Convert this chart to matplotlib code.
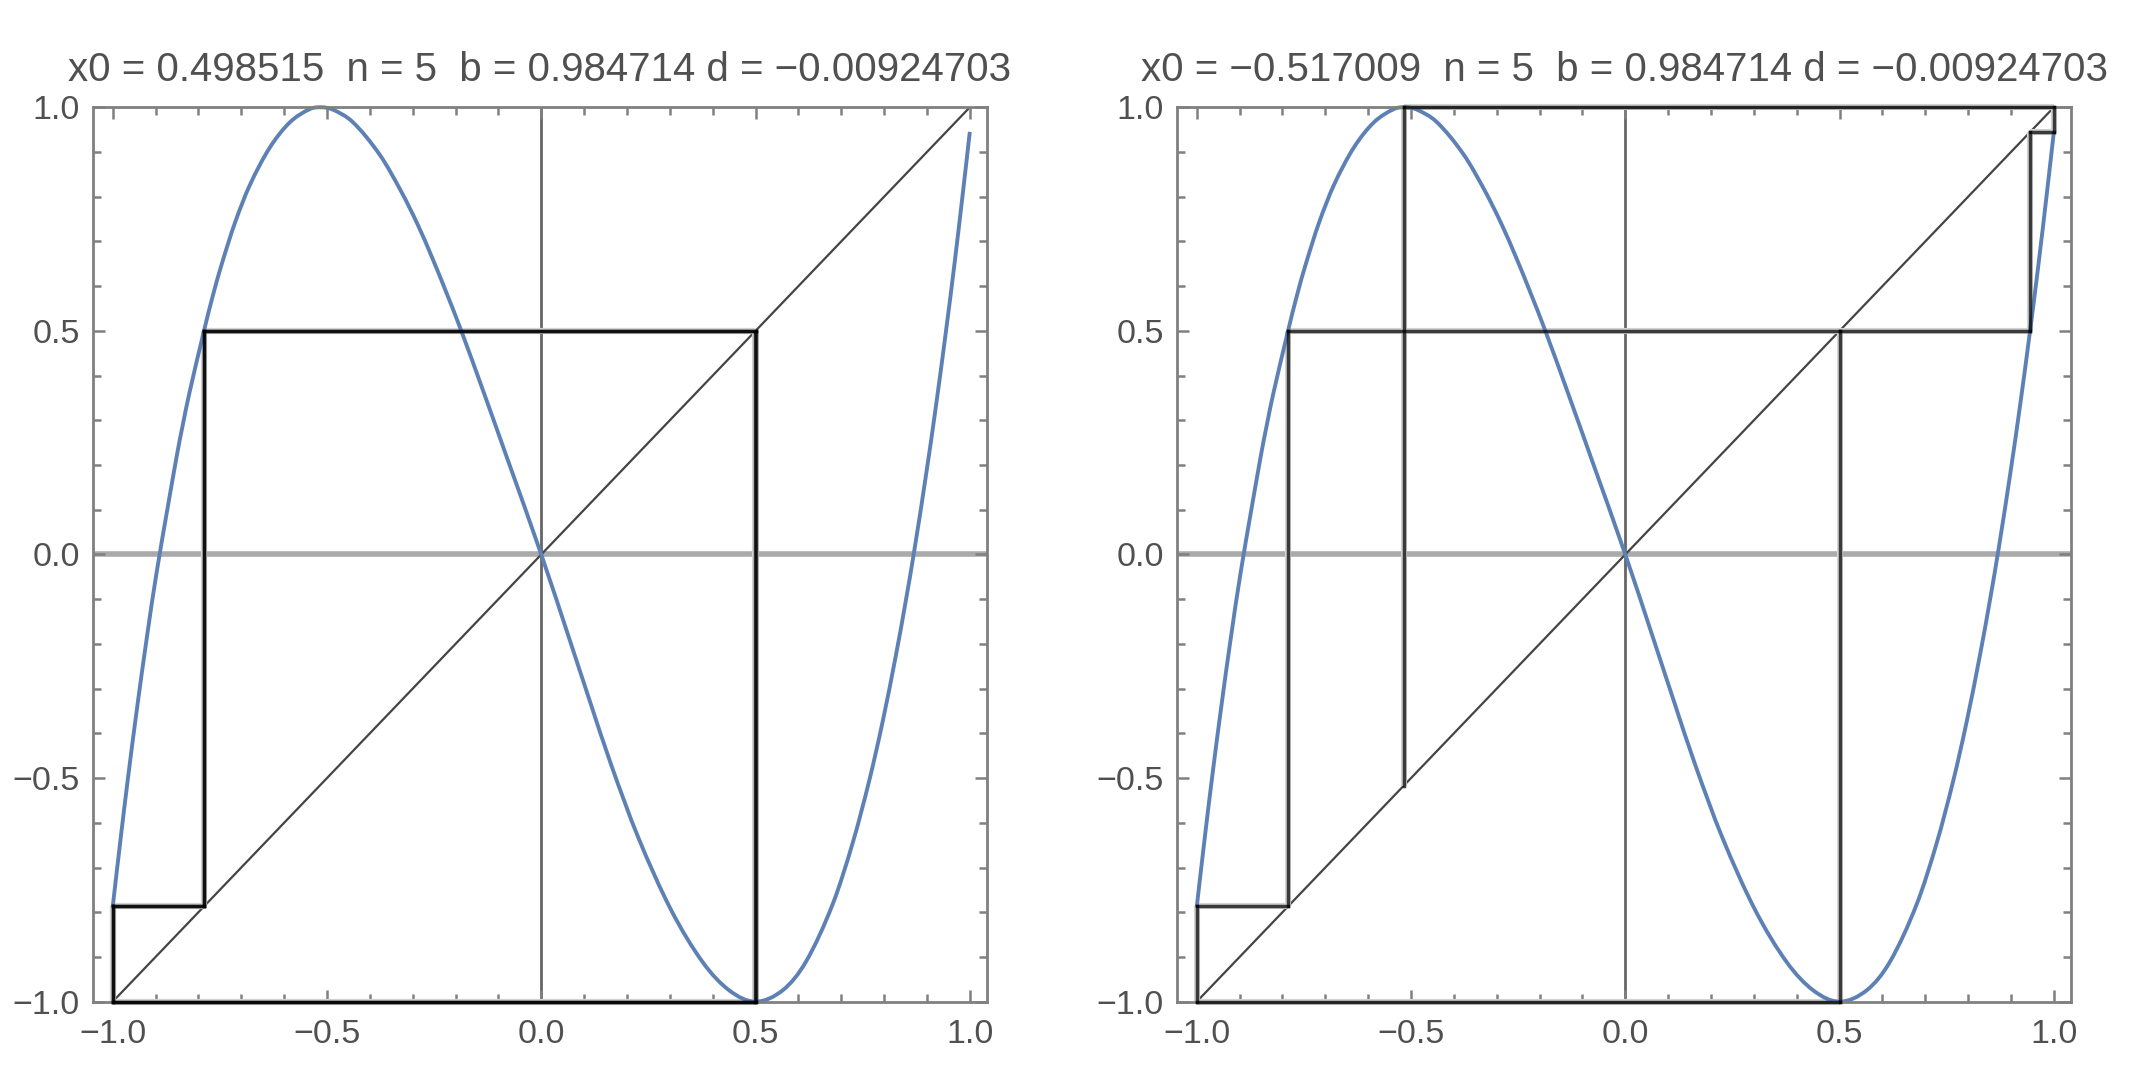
import numpy as np
import matplotlib.pyplot as plt
from matplotlib.path import Path
from matplotlib.patches import PathPatch

# map curve, points (same map in both panels)
curve_x = [-1.000, -0.982, -0.964, -0.943, -0.921, -0.897, -0.851, -0.836, -0.822,
           -0.787, -0.766, -0.746, -0.715, -0.680, -0.634, -0.587, -0.540, -0.514,
           -0.487, -0.440, -0.377, -0.327, -0.288, -0.253, -0.222, -0.187, -0.136,
           -0.078, 0.000, 0.066, 0.112, 0.163, 0.226, 0.303, 0.377, 0.439, 0.500,
           0.564, 0.618, 0.680, 0.727, 0.766, 0.797, 0.828, 0.850, 0.871, 0.898,
           0.921, 0.945, 0.964, 0.983, 1.000]
curve_y = [-0.788, -0.639, -0.497, -0.342, -0.190, -0.037, 0.218, 0.292, 0.357,
           0.500, 0.580, 0.648, 0.741, 0.826, 0.909, 0.966, 0.996, 1.000,
           0.995, 0.967, 0.894, 0.812, 0.737, 0.660, 0.587, 0.501, 0.367,
           0.211, 0.000, -0.190, -0.324, -0.470, -0.632, -0.795, -0.912, -0.975, -1.000,
           -0.974, -0.910, -0.782, -0.644, -0.503, -0.372, -0.223, -0.107, 0.012, 0.179,
           0.332, 0.504, 0.648, 0.802, 0.945]

# orbits of the cobweb (x0 followed by the iterates)
orbit_left = [0.498515, -1.0, -0.787, 0.5, -1.0, -0.787, 0.5]
orbit_right = [-0.517009, 1.0, 0.945, 0.5, -1.0, -0.787, 0.5]

titles = ["x0 = 0.498515  n = 5  b = 0.984714 d = \u22120.00924703",
          "x0 = \u22120.517009  n = 5  b = 0.984714 d = \u22120.00924703"]

major_ticks = [-1.0, -0.5, 0.0, 0.5, 1.0]
tick_labels = ["\u22121.0", "\u22120.5", "0.0", "0.5", "1.0"]
minor_ticks = [-0.9, -0.8, -0.7, -0.6, -0.4, -0.3, -0.2, -0.1,
               0.1, 0.2, 0.3, 0.4, 0.6, 0.7, 0.8, 0.9]

plt.rcParams['font.family'] = ['Liberation Sans', 'DejaVu Sans']


def smooth_path(xs, ys):
    # cubic Hermite path through the read points (rendering only)
    xs = np.asarray(xs, float)
    ys = np.asarray(ys, float)
    n = len(xs)
    m = np.empty(n)
    m[1:-1] = (ys[2:] - ys[:-2]) / (xs[2:] - xs[:-2])
    m[0] = (ys[1] - ys[0]) / (xs[1] - xs[0])
    m[-1] = (ys[-1] - ys[-2]) / (xs[-1] - xs[-2])
    verts = [(xs[0], ys[0])]
    codes = [Path.MOVETO]
    for i in range(n - 1):
        h = xs[i + 1] - xs[i]
        verts += [(xs[i] + h / 3, ys[i] + m[i] * h / 3),
                  (xs[i + 1] - h / 3, ys[i + 1] - m[i + 1] * h / 3),
                  (xs[i + 1], ys[i + 1])]
        codes += [Path.CURVE4] * 3
    return Path(verts, codes)


def cobweb_segments(orbit):
    segs = []
    x = orbit[0]
    y = orbit[0]
    for v in orbit[1:]:
        segs.append(((x, x), (y, v)))  # vertical
        segs.append(((x, v), (v, v)))  # horizontal
        x, y = v, v
    return segs


fig = plt.figure(figsize=(21.3, 10.78), dpi=100)
positions = [[0.04366, 0.0708, 0.4197, 0.8297],
             [0.5526, 0.0708, 0.4197, 0.8297]]

for pos, orbit, title in zip(positions, [orbit_left, orbit_right], titles):
    ax = fig.add_axes(pos)
    ax.set_xlim(-1.046, 1.040)
    ax.set_ylim(-1.0, 1.0)

    # axes through the origin
    ax.axhline(0, color='#aaaaaa', lw=4, zorder=1)
    ax.axvline(0, color='#666666', lw=2, zorder=1)

    # diagonal
    ax.plot([-1, 1], [-1, 1], color='#444444', lw=1.6, zorder=1.5)

    # the map
    ax.add_patch(PathPatch(smooth_path(curve_x, curve_y), fill=False,
                           edgecolor='#5e81b5', lw=2.8, zorder=2, clip_on=False))

    # cobweb
    for xs, ys in cobweb_segments(orbit):
        ax.plot(xs, ys, color='#d2d2d2', lw=4.4, zorder=1.8, clip_on=False,
                solid_capstyle='butt')
    for xs, ys in cobweb_segments(orbit):
        ax.plot(xs, ys, color='black', alpha=0.72, lw=2.5, zorder=3, clip_on=False,
                solid_capstyle='projecting')

    ax.set_xticks(major_ticks)
    ax.set_xticklabels(tick_labels)
    ax.set_yticks(major_ticks)
    ax.set_yticklabels(tick_labels)
    ax.set_xticks(minor_ticks, minor=True)
    ax.set_yticks(minor_ticks, minor=True)
    ax.tick_params(which='both', direction='in', top=True, right=True,
                   color='#808080', width=1.8)
    ax.tick_params(which='major', length=8.5, labelsize=24.5, labelcolor='#505050')
    ax.tick_params(which='minor', length=5.8)
    ax.tick_params(axis='x', which='major', pad=12.5)
    ax.tick_params(axis='y', which='major', pad=9.5)
    for sp in ax.spines.values():
        sp.set_color('#808080')
        sp.set_linewidth(2)

    ax.set_title(title, fontsize=29, color='#505050', pad=19)

fig.savefig('out.png', dpi=100)
